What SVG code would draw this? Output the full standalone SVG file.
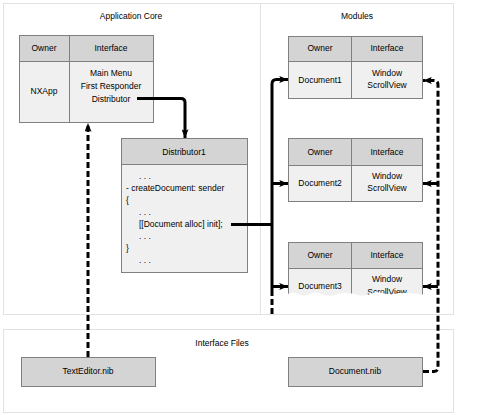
<svg xmlns="http://www.w3.org/2000/svg" width="500" height="415" viewBox="0 0 500 415">
<style>
text{font-family:"Liberation Sans",Arial,sans-serif;font-size:8.5px;fill:#000}
.c{text-anchor:middle}
.panel{fill:#fff;stroke:#e2e2e2;stroke-width:1}
.hd{fill:#d4d4d4;stroke:#808080;stroke-width:1}
.bd{fill:#f0f0f0;stroke:#808080;stroke-width:1}
.ln{fill:none;stroke:#000;stroke-width:3}
.ds{fill:none;stroke:#000;stroke-width:3;stroke-dasharray:6,3}
</style>
<defs>
<marker id="ah" viewBox="0 0 10 8" refX="10" refY="4" markerWidth="9" markerHeight="7" markerUnits="userSpaceOnUse" orient="auto">
<path d="M0,0 L10,4 L0,8 L2,4 Z" fill="#000"/>
</marker>
</defs>
<rect width="500" height="415" fill="#fff"/>
<g id="panels">
<rect class="panel" x="3.5" y="3.5" width="450" height="311"/>
<line x1="260.5" y1="3.5" x2="260.5" y2="314.5" stroke="#e2e2e2"/>
<rect class="panel" x="3.5" y="329.5" width="450" height="83"/>
<text class="c" x="131" y="19">Application Core</text>
<text class="c" x="357" y="19">Modules</text>
<text class="c" x="222" y="346">Interface Files</text>
</g>
<g id="nxapp">
<rect class="hd" x="19.5" y="35.5" width="134" height="26"/>
<rect class="bd" x="19.5" y="61.5" width="134" height="61"/>
<line x1="69.5" y1="35.5" x2="69.5" y2="122.5" stroke="#808080"/>
<text class="c" x="44" y="51">Owner</text>
<text class="c" x="111" y="51">Interface</text>
<text class="c" x="44" y="94">NXApp</text>
<text class="c" x="111" y="76">Main Menu</text>
<text class="c" x="111" y="89">First Responder</text>
<text class="c" x="111" y="102">Distributor</text>
</g>
<g id="distributor1">
<rect class="hd" x="121.5" y="138.5" width="126" height="26"/>
<rect class="bd" x="121.5" y="164.5" width="126" height="108"/>
<text class="c" x="184" y="155">Distributor1</text>
<text x="139" y="179">. . .</text>
<text x="126" y="191">- createDocument: sender</text>
<text x="126" y="203">{</text>
<text x="139" y="215">. . .</text>
<text x="139" y="227">[[Document alloc] init];</text>
<text x="139" y="239">. . .</text>
<text x="126" y="251">}</text>
<text x="139" y="263">. . .</text>
</g>
<g id="document1">
<rect class="hd" x="288.5" y="36.5" width="134" height="25"/>
<rect class="bd" x="288.5" y="61.5" width="134" height="37"/>
<line x1="351.5" y1="36.5" x2="351.5" y2="98.5" stroke="#808080"/>
<text class="c" x="320" y="51">Owner</text>
<text class="c" x="387" y="51">Interface</text>
<text class="c" x="320" y="83">Document1</text>
<text class="c" x="387" y="76">Window</text>
<text class="c" x="387" y="88">ScrollView</text>
</g>
<g id="document2">
<rect class="hd" x="288.5" y="138.5" width="134" height="27"/>
<rect class="bd" x="288.5" y="165.5" width="134" height="36"/>
<line x1="351.5" y1="138.5" x2="351.5" y2="201.5" stroke="#808080"/>
<text class="c" x="320" y="155">Owner</text>
<text class="c" x="387" y="155">Interface</text>
<text class="c" x="320" y="186">Document2</text>
<text class="c" x="387" y="179">Window</text>
<text class="c" x="387" y="191">ScrollView</text>
</g>
<g id="document3">
<rect class="hd" x="288.5" y="242.5" width="134" height="26"/>
<rect class="bd" x="288.5" y="268.5" width="134" height="34"/>
<line x1="351.5" y1="242.5" x2="351.5" y2="302" stroke="#808080"/>
<text class="c" x="320" y="258">Owner</text>
<text class="c" x="387" y="258">Interface</text>
<text class="c" x="320" y="289">Document3</text>
<text class="c" x="387" y="282">Window</text>
<text class="c" x="387" y="295">ScrollView</text>
<path d="M286,295 Q292,291 298,294 T310,294 T322,294 T334,295 T346,293 T358,295 T370,294 T382,293 T394,294 T406,293 T418,294 T426,294 L426,305 L286,305 Z" fill="#fff"/>
</g>
<g id="texteditor">
<rect class="hd" x="21.5" y="357.5" width="134" height="29"/>
<text class="c" x="88" y="374">TextEditor.nib</text>
</g>
<g id="documentnib">
<rect class="hd" x="288.5" y="357.5" width="134" height="29"/>
<text class="c" x="355" y="374">Document.nib</text>
</g>
<g id="connectors">
<path class="ln" d="M137,98.5 H181 Q185,98.5 185,102.5 V138" marker-end="url(#ah)"/>
<path class="ln" d="M231,224.5 H272"/>
<path class="ln" d="M272,296 V84 Q272,79.5 276.5,79.5 H288" marker-end="url(#ah)"/>
<path class="ln" d="M272,183.5 H288" marker-end="url(#ah)"/>
<path class="ln" d="M272,286.5 H288" marker-end="url(#ah)"/>
<path class="ds" d="M272,299 V316"/>
<path class="ds" d="M423,371.5 H434 Q438,371.5 438,367 V85 Q438,80.5 434,80.5 H423" marker-end="url(#ah)"/>
<path class="ln" d="M438,183.5 H423" marker-end="url(#ah)"/>
<path class="ln" d="M438,286.5 H423" marker-end="url(#ah)"/>
<path class="ds" d="M88,357 V123" marker-end="url(#ah)"/>
</g>
</svg>
